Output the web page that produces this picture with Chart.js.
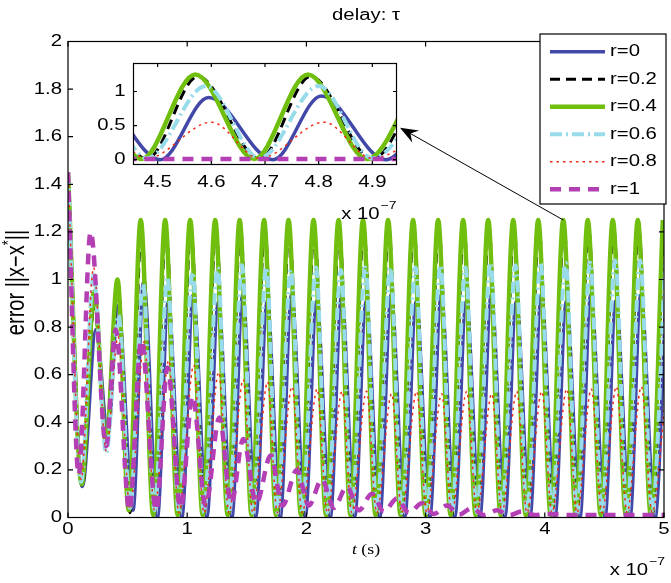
<!DOCTYPE html>
<html>
<head>
<meta charset="utf-8">
<script src="https://cdn.jsdelivr.net/npm/chart.js@4.4.1/dist/chart.umd.min.js"></script>
<style>
    body { margin: 0; background: #fff; }
    #wrap { position: relative; width: 671px; height: 583px; }
    #main { position: absolute; left: 0; top: 0; }
    #inset { position: absolute; left: 95px; top: 50px; }
</style>
</head>
<body>
<div id="wrap">
    <canvas id="main" width="671" height="583"></canvas>
    <canvas id="inset" width="310" height="175"></canvas>
</div>
<script>
// Time in units of 1e-7 s, error ||x-x*|| at the peaks and troughs.
const tR0 = [0, 0.12, 0.235, 0.335, 0.42,
    0.545, 0.635, 0.75, 0.84, 0.955, 1.05, 1.165, 1.26, 1.375, 1.465,
    1.575, 1.67, 1.78, 1.875, 1.99, 2.085, 2.2, 2.295, 2.405, 2.5,
    2.615, 2.71, 2.825, 2.92, 3.035, 3.13, 3.245, 3.34, 3.455, 3.55,
    3.665, 3.76, 3.875, 3.97, 4.085, 4.18, 4.295, 4.385, 4.505, 4.595,
    4.715, 4.805, 4.925, 5.015];
const eR0 = [1.45, 0.13, 0.79, 0.35, 0.89,
    0.03, 0.99, 0, 0.905, 0, 0.935, 0, 0.905, 0, 0.935,
    0, 0.91, 0, 0.935, 0, 0.91, 0, 0.935, 0, 0.91,
    0, 0.935, 0, 0.91, 0, 0.935, 0, 0.91, 0, 0.935,
    0, 0.91, 0, 0.935, 0, 0.91, 0, 0.935, 0, 0.91,
    0, 0.935, 0, 0.91];

const tR02 = [0, 0.12, 0.22, 0.32, 0.42,
    0.52, 0.615, 0.725, 0.82, 0.93, 1.03, 1.14, 1.24, 1.35, 1.445,
    1.55, 1.65, 1.755, 1.855, 1.965, 2.065, 2.175, 2.275, 2.38, 2.48,
    2.59, 2.69, 2.8, 2.9, 3.01, 3.11, 3.22, 3.32, 3.43, 3.53,
    3.64, 3.74, 3.85, 3.95, 4.06, 4.16, 4.27, 4.365, 4.48, 4.575,
    4.69, 4.785, 4.9, 4.995];
const eR02 = [1.45, 0.13, 0.9, 0.3, 0.97,
    0.02, 1.2, 0.01, 1.22, 0.01, 1.22, 0.01, 1.22, 0.01, 1.22,
    0.01, 1.22, 0.01, 1.22, 0.01, 1.22, 0.01, 1.22, 0.01, 1.22,
    0.01, 1.22, 0.01, 1.22, 0.01, 1.22, 0.01, 1.22, 0.01, 1.22,
    0.01, 1.22, 0.01, 1.22, 0.01, 1.22, 0.01, 1.22, 0.01, 1.22,
    0.01, 1.22, 0.01, 1.22];

const tR04 = [0, 0.115, 0.22, 0.32, 0.415,
    0.51, 0.61, 0.715, 0.815, 0.92, 1.025, 1.13, 1.235, 1.34, 1.44,
    1.54, 1.645, 1.745, 1.85, 1.955, 2.06, 2.165, 2.27, 2.37, 2.475,
    2.58, 2.685, 2.79, 2.895, 3.0, 3.105, 3.21, 3.315, 3.42, 3.525,
    3.63, 3.735, 3.84, 3.945, 4.05, 4.155, 4.26, 4.36, 4.47, 4.57,
    4.68, 4.78, 4.89, 4.99];
const eR04 = [1.45, 0.14, 0.95, 0.31, 1.0,
    0.03, 1.25, 0.01, 1.25, 0.01, 1.25, 0.01, 1.25, 0.01, 1.25,
    0.01, 1.25, 0.01, 1.25, 0.01, 1.25, 0.01, 1.25, 0.01, 1.25,
    0.01, 1.25, 0.01, 1.25, 0.01, 1.25, 0.01, 1.25, 0.01, 1.25,
    0.01, 1.25, 0.01, 1.25, 0.01, 1.25, 0.01, 1.25, 0.01, 1.25,
    0.01, 1.25, 0.01, 1.25];

const tR06 = [0, 0.11, 0.215, 0.32, 0.425,
    0.52, 0.63, 0.725, 0.835, 0.93, 1.045, 1.14, 1.255, 1.35, 1.46,
    1.55, 1.665, 1.755, 1.87, 1.965, 2.08, 2.175, 2.29, 2.38, 2.495,
    2.59, 2.705, 2.8, 2.915, 3.01, 3.125, 3.22, 3.335, 3.43, 3.545,
    3.64, 3.755, 3.85, 3.965, 4.06, 4.175, 4.27, 4.38, 4.48, 4.59,
    4.69, 4.8, 4.9, 5.01];
const eR06 = [1.45, 0.15, 1.02, 0.27, 0.85,
    0.04, 0.98, 0.03, 1.01, 0.02, 1.03, 0.02, 1.05, 0.02, 1.06,
    0.02, 1.05, 0.02, 1.04, 0.02, 1.05, 0.02, 1.04, 0.02, 1.05,
    0.02, 1.05, 0.02, 1.05, 0.02, 1.06, 0.02, 1.05, 0.02, 1.07,
    0.02, 1.06, 0.02, 1.07, 0.02, 1.07, 0.02, 1.07, 0.02, 1.08,
    0.02, 1.08, 0.02, 1.07];

const tR08 = [0, 0.11, 0.215, 0.32, 0.42,
    0.52, 0.64, 0.725, 0.845, 0.93, 1.055, 1.14, 1.265, 1.35, 1.47,
    1.55, 1.675, 1.755, 1.88, 1.965, 2.09, 2.175, 2.3, 2.38, 2.505,
    2.59, 2.715, 2.8, 2.925, 3.01, 3.135, 3.22, 3.345, 3.43, 3.555,
    3.64, 3.765, 3.85, 3.975, 4.06, 4.185, 4.27, 4.39, 4.48, 4.6,
    4.69, 4.81, 4.9, 5.02];
const eR08 = [1.45, 0.16, 1.05, 0.28, 0.76,
    0.04, 0.74, 0.03, 0.66, 0.02, 0.64, 0.02, 0.61, 0.02, 0.58,
    0.02, 0.57, 0.02, 0.55, 0.02, 0.54, 0.02, 0.53, 0.02, 0.53,
    0.02, 0.52, 0.02, 0.53, 0.02, 0.52, 0.02, 0.53, 0.02, 0.52,
    0.02, 0.53, 0.02, 0.53, 0.02, 0.54, 0.02, 0.54, 0.02, 0.55,
    0.02, 0.55, 0.02, 0.55];

const tR1 = [0, 0.09, 0.19, 0.32, 0.40,
    0.515, 0.615, 0.74, 0.835, 0.945, 1.045, 1.155, 1.27, 1.37, 1.47,
    1.58, 1.70, 1.80, 1.92, 2.02, 2.13, 2.23, 2.34, 2.44, 2.55,
    2.65, 2.76, 2.86, 2.97, 3.07, 3.18, 3.28, 3.39, 3.49, 3.6,
    3.7, 3.81, 3.92, 4.02, 4.23, 4.44, 4.65, 4.86, 5.0];
const eR1 = [1.45, 0.18, 1.2, 0.3, 0.79,
    0.03, 0.745, 0.03, 0.63, 0.04, 0.51, 0.05, 0.42, 0.06, 0.33,
    0.06, 0.26, 0.05, 0.2, 0.05, 0.16, 0.04, 0.13, 0.03, 0.1,
    0.025, 0.08, 0.02, 0.06, 0.015, 0.05, 0.012, 0.04, 0.01, 0.03,
    0.01, 0.025, 0.01, 0.015, 0.01, 0.01, 0.01, 0.01, 0.01];

const seriesLabels = ["r=0", "r=0.2", "r=0.4", "r=0.6", "r=0.8", "r=1"];
const xTicks = [0, 1, 2, 3, 4, 5];
const yTicks = [0, 0.2, 0.4, 0.6, 0.8, 1, 1.2, 1.4, 1.6, 1.8, 2];
const insetXTicks = [4.5, 4.6, 4.7, 4.8, 4.9];
const insetYTicks = [0, 0.5, 1];

const lineStyles = [
    {color: "#4248a8", width: 3.5, dash: []},
    {color: "#000000", width: 3, dash: [10, 6]},
    {color: "#70be0e", width: 4.5, dash: []},
    {color: "#98dbea", width: 4, dash: [12, 4, 2, 4]},
    {color: "#ee2c14", width: 1.5, dash: [2.5, 4]},
    {color: "#b43fb4", width: 4.5, dash: [11, 8]},
];

// The figure was stretched sideways, so text is drawn wider than the font.
const SX = 1.27;
const FONT = '"Liberation Sans", Arial, sans-serif';
const SERIF = '"Liberation Serif", "Times New Roman", serif';
const INSET_LEFT = 95, INSET_TOP = 50;

function makeDatasets() {
    const times = [tR0, tR02, tR04, tR06, tR08, tR1];
    const errors = [eR0, eR02, eR04, eR06, eR08, eR1];
    return seriesLabels.map((label, i) => ({
        label: label,
        data: times[i].map((t, k) => ({x: t, y: errors[i][k]})),
        borderColor: lineStyles[i].color,
        borderWidth: lineStyles[i].width,
        borderDash: lineStyles[i].dash,
        pointRadius: 0,
        fill: false,
        cubicInterpolationMode: "monotone",
        // Later series are drawn on top, as in the original plot.
        order: seriesLabels.length - i,
    }));
}

function putText(ctx, str, x, y, size, align, baseline, family, style) {
    ctx.save();
    ctx.translate(x, y);
    ctx.scale(SX, 1);
    ctx.font = (style || "") + " " + size + "px " + (family || FONT);
    ctx.textAlign = align || "center";
    ctx.textBaseline = baseline || "middle";
    ctx.fillStyle = "#000";
    ctx.fillText(str, 0, 0);
    ctx.restore();
}

function textWidth(ctx, str, size, family, style) {
    ctx.save();
    ctx.font = (style || "") + " " + size + "px " + (family || FONT);
    const w = ctx.measureText(str).width * SX;
    ctx.restore();
    return w;
}

function drawExponent(ctx, right, baseY) {
    const sup = "\u22127";
    const w = textWidth(ctx, sup, 11);
    putText(ctx, sup, right, baseY - 10, 11, "right", "alphabetic");
    putText(ctx, "x 10", right - w - 1, baseY, 16, "right", "alphabetic");
}

// Box round the axes with inward ticks and the tick labels, MATLAB style.
const matlabAxes = {
    id: "matlabAxes",
    afterDatasetsDraw(chart, args, opts) {
        const {ctx, chartArea: a, scales: {x, y}} = chart;
        ctx.save();
        ctx.strokeStyle = "#000";
        ctx.lineWidth = 1.2;
        ctx.setLineDash([]);
        ctx.strokeRect(a.left, a.top, a.right - a.left, a.bottom - a.top);
        ctx.beginPath();
        for (const t of x.ticks) {
            const px = x.getPixelForValue(t.value);
            ctx.moveTo(px, a.bottom);
            ctx.lineTo(px, a.bottom - opts.tickLen);
            ctx.moveTo(px, a.top);
            ctx.lineTo(px, a.top + opts.tickLen);
        }
        for (const t of y.ticks) {
            const py = y.getPixelForValue(t.value);
            ctx.moveTo(a.left, py);
            ctx.lineTo(a.left + opts.tickLen, py);
            ctx.moveTo(a.right, py);
            ctx.lineTo(a.right - opts.tickLen, py);
        }
        ctx.stroke();
        ctx.restore();

        for (const t of x.ticks) {
            putText(ctx, String(t.value), x.getPixelForValue(t.value), a.bottom + opts.xGap, 16);
        }
        for (const t of y.ticks) {
            putText(ctx, String(t.value), a.left - opts.yGap, y.getPixelForValue(t.value), 16, "right");
        }
    }
};

const insetDecor = {
    id: "insetDecor",
    beforeDatasetsDraw(chart) {
        const {ctx, chartArea: a} = chart;
        ctx.save();
        ctx.fillStyle = "#fff";
        ctx.fillRect(a.left, a.top, a.right - a.left, a.bottom - a.top);
        ctx.restore();
    },
    afterDraw(chart) {
        drawExponent(chart.ctx, chart.chartArea.right, 169);
    }
};

function axisOptions(min, max, ticks, size) {
    return {
        type: "linear",
        min: min,
        max: max,
        grid: {display: false, drawTicks: false},
        border: {display: false},
        ticks: {display: false, autoSkip: false},
        afterBuildTicks: scale => {
            scale.ticks = ticks.map(v => ({value: v}));
        },
        afterFit: scale => {
            if (scale.isHorizontal()) {
                scale.height = size;
            } else {
                scale.width = size;
            }
        },
    };
}

const insetChart = new Chart(document.getElementById("inset"), {
    type: "line",
    data: {datasets: makeDatasets()},
    options: {
        responsive: false,
        animation: false,
        events: [],
        layout: {padding: {left: 0, right: 8.5, top: 13.5, bottom: 30.5}},
        scales: {
            x: axisOptions(4.455, 4.945, insetXTicks, 30),
            y: axisOptions(-0.07, 1.41, insetYTicks, 38.5),
        },
        plugins: {
            legend: {display: false},
            tooltip: {enabled: false},
            matlabAxes: {tickLen: 3.5, xGap: 18, yGap: 8},
        }
    },
    plugins: [insetDecor, matlabAxes],
});

// Titles, legend and the arrow pointing at the zoomed window.
const mainDecor = {
    id: "mainDecor",
    afterDraw(chart) {
        const {ctx, chartArea: a, scales: {x, y}} = chart;
        const cx = (a.left + a.right) / 2;

        putText(ctx, "delay: \u03c4", cx, 16, 16);

        // x label: italic t followed by (s), in a serif face
        const wt = textWidth(ctx, "t", 14, SERIF, "italic");
        const ws = textWidth(ctx, " (s)", 14, SERIF);
        const x0 = cx - (wt + ws) / 2;
        putText(ctx, "t", x0, 554, 14, "left", "alphabetic", SERIF, "italic");
        putText(ctx, " (s)", x0 + wt, 554, 14, "left", "alphabetic", SERIF);

        drawExponent(ctx, a.right + 1, 575);

        // y label, rotated, with a raised asterisk
        const parts = [["error ||x\u2212x", 20, 0], ["*", 13, -6], ["||", 20, 0]];
        ctx.save();
        ctx.translate(17, (a.top + a.bottom) / 2 + 3);
        ctx.scale(SX, 1);
        ctx.rotate(-Math.PI / 2);
        ctx.fillStyle = "#000";
        ctx.textBaseline = "middle";
        ctx.textAlign = "left";
        let total = 0;
        for (const p of parts) {
            ctx.font = p[1] + "px " + FONT;
            total += ctx.measureText(p[0]).width;
        }
        let pos = -total / 2;
        for (const p of parts) {
            ctx.font = p[1] + "px " + FONT;
            ctx.fillText(p[0], pos, p[2]);
            pos += ctx.measureText(p[0]).width;
        }
        ctx.restore();

        // arrow from a peak of the r=0.4 curve to the inset
        const tail = {x: x.getPixelForValue(4.155), y: y.getPixelForValue(1.25)};
        const tip = {
            x: INSET_LEFT + insetChart.chartArea.right + 3.5,
            y: INSET_TOP + insetChart.scales.y.getPixelForValue(0.47),
        };
        const len = Math.hypot(tail.x - tip.x, tail.y - tip.y);
        const ux = (tail.x - tip.x) / len, uy = (tail.y - tip.y) / len;
        ctx.save();
        ctx.strokeStyle = "#000";
        ctx.fillStyle = "#000";
        ctx.lineWidth = 1;
        ctx.beginPath();
        ctx.moveTo(tail.x, tail.y);
        ctx.lineTo(tip.x + ux * 10, tip.y + uy * 10);
        ctx.stroke();
        ctx.beginPath();
        ctx.moveTo(tip.x, tip.y);
        ctx.lineTo(tip.x + ux * 18 - uy * 7, tip.y + uy * 18 + ux * 7);
        ctx.lineTo(tip.x + ux * 12, tip.y + uy * 12);
        ctx.lineTo(tip.x + ux * 18 + uy * 7, tip.y + uy * 18 - ux * 7);
        ctx.closePath();
        ctx.fill();
        ctx.restore();

        // legend box over the top right corner
        const bl = a.right - 124, bt = a.top - 7.5, bw = 126, bh = 170;
        ctx.save();
        ctx.fillStyle = "#fff";
        ctx.fillRect(bl, bt, bw, bh);
        ctx.strokeStyle = "#000";
        ctx.lineWidth = 1.2;
        ctx.strokeRect(bl, bt, bw, bh);
        ctx.restore();
        chart.data.datasets.forEach((ds, i) => {
            const ry = bt + 17.7 + i * 27.5;
            ctx.save();
            ctx.strokeStyle = ds.borderColor;
            ctx.lineWidth = ds.borderWidth;
            ctx.setLineDash(ds.borderDash);
            ctx.beginPath();
            ctx.moveTo(bl + 10, ry);
            ctx.lineTo(bl + 65, ry);
            ctx.stroke();
            ctx.restore();
            putText(ctx, ds.label, bl + 70, ry, 16, "left");
        });
    }
};

new Chart(document.getElementById("main"), {
    type: "line",
    data: {datasets: makeDatasets()},
    options: {
        responsive: false,
        animation: false,
        events: [],
        layout: {padding: {left: 0, right: 7, top: 41.5, bottom: 35.5}},
        scales: {
            x: axisOptions(0, 5, xTicks, 30),
            y: axisOptions(0, 2, yTicks, 68),
        },
        plugins: {
            legend: {display: false},
            tooltip: {enabled: false},
            matlabAxes: {tickLen: 5, xGap: 12, yGap: 6},
        }
    },
    plugins: [matlabAxes, mainDecor],
});
</script>
</body>
</html>
